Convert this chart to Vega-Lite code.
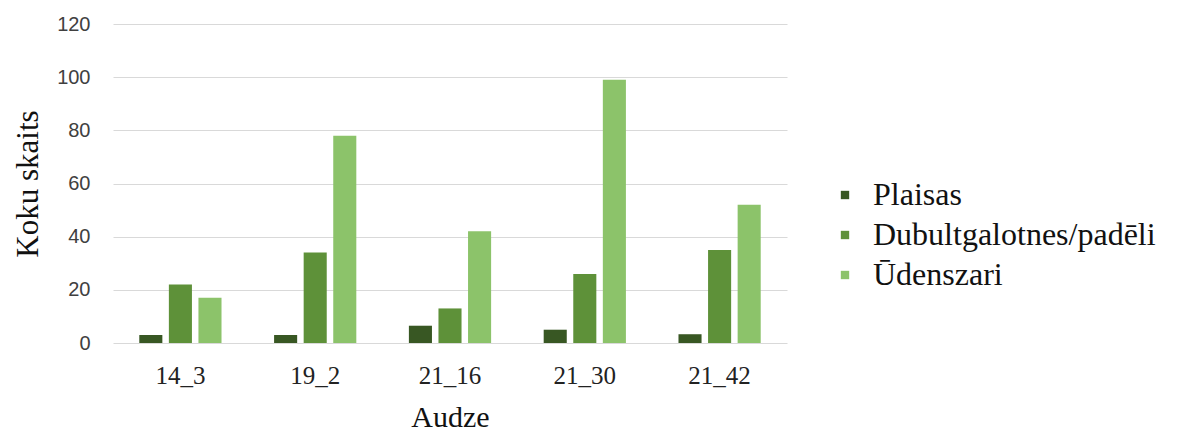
{
  "$schema": "https://vega.github.io/schema/vega-lite/v6.json",
  "autosize": {"type": "none"},
  "padding": {"left": 113, "top": 24, "right": 392, "bottom": 89},
  "width": 674,
  "height": 319,
  "background": "white",
  "data": {"values": [
    {"audze": "14_3", "tips": "Plaisas", "skaits": 3},
    {"audze": "14_3", "tips": "Dubultgalotnes/padēli", "skaits": 22},
    {"audze": "14_3", "tips": "Ūdenszari", "skaits": 17},
    {"audze": "19_2", "tips": "Plaisas", "skaits": 3},
    {"audze": "19_2", "tips": "Dubultgalotnes/padēli", "skaits": 34},
    {"audze": "19_2", "tips": "Ūdenszari", "skaits": 78},
    {"audze": "21_16", "tips": "Plaisas", "skaits": 6.5},
    {"audze": "21_16", "tips": "Dubultgalotnes/padēli", "skaits": 13},
    {"audze": "21_16", "tips": "Ūdenszari", "skaits": 42},
    {"audze": "21_30", "tips": "Plaisas", "skaits": 5},
    {"audze": "21_30", "tips": "Dubultgalotnes/padēli", "skaits": 26},
    {"audze": "21_30", "tips": "Ūdenszari", "skaits": 99},
    {"audze": "21_42", "tips": "Plaisas", "skaits": 3.3},
    {"audze": "21_42", "tips": "Dubultgalotnes/padēli", "skaits": 35},
    {"audze": "21_42", "tips": "Ūdenszari", "skaits": 52}
  ]},
  "mark": {"type": "bar"},
  "encoding": {
    "x": {
      "field": "audze", "type": "nominal", "sort": null,
      "scale": {"paddingInner": 0.39, "paddingOuter": 0.195},
      "axis": {
        "title": "Audze", "labelAngle": 0, "domain": false, "ticks": false,
        "labelFont": "Liberation Serif", "labelFontSize": 25, "labelColor": "#222222",
        "labelPadding": 20,
        "titleFont": "Liberation Serif", "titleFontSize": 30, "titleFontWeight": "normal",
        "titleColor": "#111111", "titlePadding": 14
      }
    },
    "xOffset": {
      "field": "tips", "type": "nominal",
      "sort": ["Plaisas", "Dubultgalotnes/padēli", "Ūdenszari"],
      "scale": {"paddingInner": 0.22, "paddingOuter": 0}
    },
    "y": {
      "field": "skaits", "type": "quantitative",
      "scale": {"domain": [0, 120], "nice": false},
      "axis": {
        "title": "Koku skaits", "values": [0, 20, 40, 60, 80, 100, 120],
        "domain": false, "ticks": false, "grid": true,
        "gridColor": "#d9d9d9", "gridWidth": 1.2,
        "labelFont": "Liberation Sans", "labelFontSize": 20, "labelColor": "#404040",
        "labelPadding": 23,
        "titleFont": "Liberation Serif", "titleFontSize": 31, "titleFontWeight": "normal",
        "titleColor": "#111111", "titlePadding": 12
      }
    },
    "color": {
      "field": "tips", "type": "nominal",
      "sort": ["Plaisas", "Dubultgalotnes/padēli", "Ūdenszari"],
      "scale": {
        "domain": ["Plaisas", "Dubultgalotnes/padēli", "Ūdenszari"],
        "range": ["#385723", "#5e9139", "#8cc36a"]
      },
      "legend": {
        "title": null, "orient": "none", "legendX": 716, "legendY": 155,
        "symbolType": "square", "symbolSize": 70, "symbolStrokeWidth": 0,
        "labelFont": "Liberation Serif", "labelFontSize": 32, "labelColor": "#111111",
        "labelOffset": 12, "rowPadding": 8, "labelLimit": 400
      }
    }
  },
  "config": {"view": {"stroke": null}}
}
